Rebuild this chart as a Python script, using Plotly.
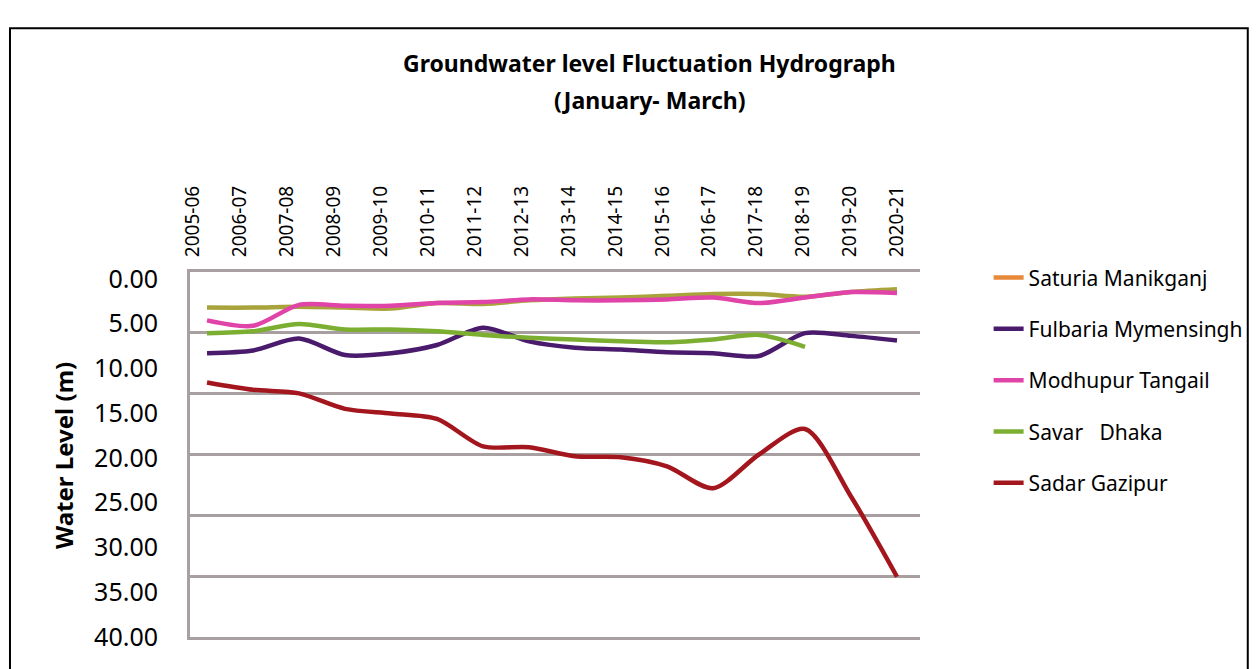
import plotly.graph_objects as go

years = ["2005-06", "2006-07", "2007-08", "2008-09", "2009-10", "2010-11", "2011-12",
         "2012-13", "2013-14", "2014-15", "2015-16", "2016-17", "2017-18", "2018-19",
         "2019-20", "2020-21"]

saturia = [3.9, 3.9, 3.8, 3.9, 4.0, 3.4, 3.5, 3.1, 2.9, 2.8, 2.6, 2.4, 2.4, 2.7, 2.2, 1.9]
fulbaria = [8.9, 8.6, 7.3, 9.1, 8.9, 8.0, 6.1, 7.6, 8.3, 8.5, 8.8, 8.9, 9.2, 6.7, 7.0, 7.5]
modhupur = [5.3, 5.9, 3.6, 3.7, 3.7, 3.4, 3.3, 3.0, 3.1, 3.1, 3.0, 2.8, 3.4, 2.8, 2.2, 2.3]
savar = [6.7, 6.5, 5.7, 6.3, 6.3, 6.5, 6.9, 7.2, 7.4, 7.6, 7.7, 7.4, 6.9, 8.2, None, None]
sadar = [12.1, 12.9, 13.3, 15.0, 15.5, 16.1, 19.1, 19.2, 20.2, 20.3, 21.3, 23.7, 20.0, 17.2, 24.6, 33.4]

y_labels = [0, 5, 10, 15, 20, 25, 30, 35, 40]
grid_vals = [0, 40 / 6, 80 / 6, 20, 160 / 6, 200 / 6, 40]

FONT = "Noto Sans"
x_idx = list(range(len(years)))

fig = go.Figure()

def add(name, vals, color, legend_color=None, group=None):
    fig.add_trace(go.Scatter(
        x=x_idx, y=vals, mode="lines", name=name,
        line=dict(color=color, width=4.5, shape="spline", smoothing=0.8),
        connectgaps=False, showlegend=legend_color is None, legendgroup=group or name,
    ))
    if legend_color is not None:
        fig.add_trace(go.Scatter(
            x=[None], y=[None], mode="lines", name=name, xaxis="x2", yaxis="y2",
            line=dict(color=legend_color, width=4.5), legendgroup=group or name,
        ))

add("Saturia Manikganj", saturia, "#a8a33a", legend_color="#e8893a", group="sat")
add("Fulbaria Mymensingh", fulbaria, "#4a1a6c")
add("Modhupur Tangail", modhupur, "#e044a8")
add("Savar   Dhaka", savar, "#7cae32")
add("Sadar Gazipur", sadar, "#a3161e")

GRID = "#a8a0a0"

fig.update_layout(
    width=1259, height=669,
    margin=dict(l=182, r=347, t=264, b=40, autoexpand=False),
    paper_bgcolor="white", plot_bgcolor="white",
    font=dict(family=FONT, color="black"),
    xaxis=dict(
        range=[-0.37, 15.5], showticklabels=False, showgrid=False, zeroline=False,
        showline=True, mirror=True, linecolor=GRID, linewidth=3, ticks="",
    ),
    xaxis2=dict(
        overlaying="x", side="top", range=[-0.064, 15.49], tickmode="array",
        tickvals=x_idx, ticktext=years, tickangle=-90,
        tickfont=dict(size=19, family=FONT), showgrid=False, zeroline=False, showline=False,
        ticks="outside", ticklen=10, tickcolor="rgba(0,0,0,0)",
    ),
    yaxis=dict(
        range=[40, 0], tickmode="array", tickvals=grid_vals, showticklabels=False,
        showgrid=True, gridcolor=GRID, gridwidth=3, zeroline=False,
        showline=True, linecolor=GRID, linewidth=3, ticks="",
    ),
    yaxis2=dict(
        overlaying="y", side="left", range=[40, -0.78], tickmode="array", tickvals=y_labels,
        ticktext=[f"{v:.2f}" for v in y_labels], tickfont=dict(size=25, family=FONT),
        showgrid=False, zeroline=False, showline=False,
        ticks="outside", ticklen=26, tickcolor="rgba(0,0,0,0)",
    ),
    legend=dict(
        x=1.094, y=1.04, xanchor="left", yanchor="top",
        font=dict(size=21, family=FONT), tracegroupgap=21, bgcolor="rgba(0,0,0,0)",
    ),
    showlegend=True,
    annotations=[
        dict(text="<b>Groundwater level Fluctuation Hydrograph</b>", xref="paper", yref="paper",
             x=0.63, y=1.5726, showarrow=False, font=dict(size=23, family=FONT), yanchor="middle"),
        dict(text="<b>(January- March)</b>", xref="paper", yref="paper",
             x=0.63, y=1.471, showarrow=False, font=dict(size=23, family=FONT), yanchor="middle"),
        dict(text="<b>Water Level (m)</b>", xref="paper", yref="paper",
             x=-0.174, y=0.4986, showarrow=False, textangle=-90, font=dict(size=24, family=FONT),
             xanchor="center", yanchor="middle"),
    ],
    shapes=[
        dict(type="rect", xref="paper", yref="paper", x0=-0.2466, x1=1.449, y0=-0.2, y1=1.668,
             line=dict(color="black", width=2), fillcolor="rgba(0,0,0,0)", layer="below"),
    ],
)

fig.write_html("out.html")
